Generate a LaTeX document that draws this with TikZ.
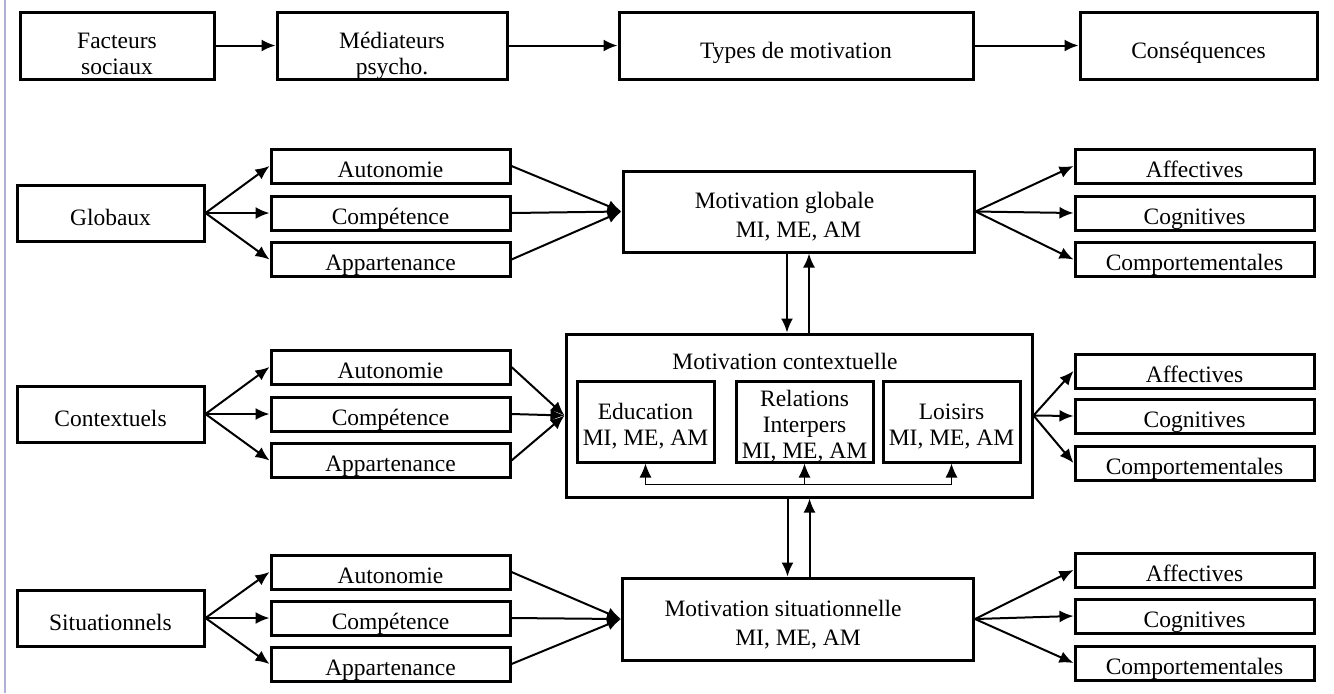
\documentclass[tikz,border=0pt]{standalone}
\usepackage{fontspec}
\setmainfont{Liberation Serif}
\usetikzlibrary{arrows.meta}
\tikzset{>={Latex[length=7pt,width=6pt]}}
\definecolor{lavande}{RGB}{176,176,214}

\begin{document}
\begin{tikzpicture}[x=0.5pt,y=-0.5pt,
  boite/.style={draw,line width=1.5pt,inner sep=0pt,align=center,font=\fontsize{11.75pt}{13pt}\selectfont},
  haut/.style={boite,minimum height=33.5pt,text height=14.5pt,text depth=2pt},
  haut2/.style={boite,minimum height=33.5pt,text height=31.25pt,text depth=2.25pt},
  facteur/.style={boite,minimum width=93.5pt,minimum height=28pt,text height=14pt,text depth=2pt},
  besoin/.style={boite,minimum width=119.5pt,minimum height=17pt,text height=14pt,text depth=3pt},
  motiv/.style={boite,minimum width=175.5pt,font=\fontsize{11.75pt}{14.5pt}\selectfont},
  sous/.style={boite,minimum width=68.5pt,minimum height=40.5pt},
  fleche/.style={->,line width=1pt}]
\useasboundingbox (0,0) rectangle (1334,693);
\draw[lavande,line width=1pt] (5,0)--(5,693);

\node[haut2,minimum width=97pt] (fs) at (117,45.5) {Facteurs\\sociaux};
\node[haut2,minimum width=115pt] (mp) at (392,45.5) {Médiateurs\\psycho.};
\node[haut,minimum width=177pt] (tm) at (796,45.5) {Types de motivation};
\node[haut,minimum width=118.5pt] (cq) at (1198.5,45.5) {Conséquences};
\draw[fleche] (fs)--(mp);
\draw[fleche] (mp)--(tm);
\draw[fleche] (tm)--(cq);

\node[facteur] (glob) at (110.5,213) {Globaux};
\node[besoin] (ag) at (390.5,166) {Autonomie};
\node[besoin] (cg) at (390.5,213) {Compétence};
\node[besoin] (pg) at (390.5,259.5) {Appartenance};
\node[motiv,minimum height=40.5pt,text height=33pt,text depth=7.5pt] (mg) at (798.5,211.5) {Motivation globale\hspace*{14pt}\\MI, ME, AM};
\node[besoin] (afg) at (1194.5,166) {Affectives};
\node[besoin] (cog) at (1194.5,213) {Cognitives};
\node[besoin] (cpg) at (1194.5,259.5) {Comportementales};

\node[facteur] (ctx) at (110.5,414) {Contextuels};
\node[besoin] (ac) at (390.5,367) {Autonomie};
\node[besoin] (cc) at (390.5,414) {Compétence};
\node[besoin] (pc) at (390.5,460.5) {Appartenance};
\node[boite,minimum width=233pt,minimum height=81.5pt] (mc) at (799,415.5) {};
\node[font=\fontsize{11.75pt}{13pt}\selectfont] (titre) at (785,361.5) {Motivation contextuelle};
\node[sous,text height=32pt,text depth=8.5pt] (edu) at (645.5,421.5) {Education\\MI, ME, AM};
\node[sous,text height=38.5pt,text depth=2pt] (rel) at (804.5,421.5) {Relations\\Interpers\\MI, ME, AM};
\node[sous,text height=32pt,text depth=8.5pt] (loi) at (951.5,421.5) {Loisirs\\MI, ME, AM};
\node[besoin] (afc) at (1194.5,371) {Affectives};
\node[besoin] (coc) at (1194.5,416) {Cognitives};
\node[besoin] (cpc) at (1194.5,463) {Comportementales};

\node[facteur] (sit) at (110.5,618) {Situationnels};
\node[besoin] (as) at (390.5,572) {Autonomie};
\node[besoin] (cs) at (390.5,618) {Compétence};
\node[besoin] (ps) at (390.5,664) {Appartenance};
\node[motiv,minimum height=41pt,text height=33.5pt,text depth=7.5pt] (ms) at (798,619) {Motivation situationnelle\hspace*{15pt}\\MI, ME, AM};
\node[besoin] (afs) at (1194.5,570) {Affectives};
\node[besoin] (cos) at (1194.5,616) {Cognitives};
\node[besoin] (cps) at (1194.5,663) {Comportementales};

\foreach \f/\a/\c/\p/\m/\x/\y/\z in {glob/ag/cg/pg/mg/afg/cog/cpg, ctx/ac/cc/pc/mc/afc/coc/cpc, sit/as/cs/ps/ms/afs/cos/cps}{
  \draw[fleche] (\f.east)--(\a.west);
  \draw[fleche] (\f.east)--(\c.west);
  \draw[fleche] (\f.east)--(\p.west);
  \draw[fleche] (\a.east)--(\m.west);
  \draw[fleche] (\c.east)--(\m.west);
  \draw[fleche] (\p.east)--(\m.west);
  \draw[fleche] (\m.east)--(\x.west);
  \draw[fleche] (\m.east)--(\y.west);
  \draw[fleche] (\m.east)--(\z.west);
}

\draw[fleche] ([xshift=-5.75pt]mg.south)--([xshift=-5.75pt]mg.south |- mc.north);
\draw[fleche] ([xshift=5.25pt]mg.south |- mc.north)--([xshift=5.25pt]mg.south);
\draw[fleche] ([xshift=-5.75pt]mc.south)--([xshift=-5.75pt]mc.south |- ms.north);
\draw[fleche] ([xshift=5.25pt]mc.south |- ms.north)--([xshift=5.25pt]mc.south);

\coordinate (bas) at ([yshift=-10.5pt]rel.south);
\draw[->,line width=0.6pt] (bas)-|(edu.south);
\draw[->,line width=0.6pt] (bas)-|(loi.south);
\draw[->,line width=0.6pt] (bas)--(rel.south);
\end{tikzpicture}
\end{document}
